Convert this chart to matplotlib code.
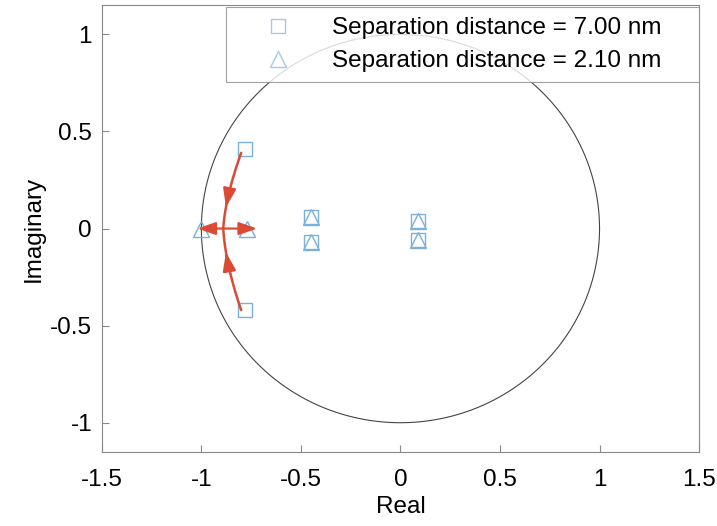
import numpy as np
import matplotlib.pyplot as plt

plt.rcParams['font.family'] = ['Liberation Sans', 'DejaVu Sans']

# pole locations for the two separation distances
poles_7nm_re = [-0.78, -0.78, -0.45, -0.45, 0.09, 0.09]
poles_7nm_im = [0.41, -0.42, 0.06, -0.07, 0.04, -0.06]
poles_21nm_re = [-1.00, -0.77, -0.45, -0.45, 0.09, 0.09]
poles_21nm_im = [0.0, 0.0, 0.06, -0.07, 0.04, -0.06]

labels = ['Separation distance = 7.00 nm', 'Separation distance = 2.10 nm']

# red arrows showing the pole movement
curve_start = [(-0.80, 0.39), (-0.80, -0.42)]
curve_ctrl = [(-0.88, 0.16), (-0.88, -0.18)]
curve_end = (-0.89, 0.0)
split_left, split_right = -1.02, -0.72

blue = '#7ab0dc'
red = '#db4a35'
FS = 17.5
HEAD = ',head_width=0.35,head_length=1.0'


def bezier(p0, p1, p2, n=60):
    t = np.linspace(0, 1, n)[:, None]
    p0, p1, p2 = map(np.asarray, (p0, p1, p2))
    return (1 - t) ** 2 * p0 + 2 * (1 - t) * t * p1 + t ** 2 * p2


def main():
    fig = plt.figure(figsize=(7.17, 5.26), dpi=100)
    ax = fig.add_axes([0.142, 0.141, 0.833, 0.849])

    th = np.linspace(0, 2 * np.pi, 400)
    ax.plot(np.cos(th), np.sin(th), color='#444444', lw=0.8)

    ax.plot(poles_7nm_re, poles_7nm_im, 's', ms=10, mfc='none', mec=blue,
            mew=1.0, label=labels[0])
    ax.plot(poles_21nm_re, poles_21nm_im, '^', ms=12, mfc='none', mec=blue,
            mew=1.0, label=labels[1])

    for p0, p1 in zip(curve_start, curve_ctrl):
        pts = bezier(p0, p1, curve_end)
        ax.plot(pts[:, 0], pts[:, 1], color=red, lw=1.8, solid_capstyle='round')
        i = 38
        ax.annotate('', xy=pts[i + 2], xytext=pts[i - 2],
                    arrowprops=dict(arrowstyle='-|>' + HEAD, color=red, lw=1.8,
                                    mutation_scale=11, shrinkA=0, shrinkB=0))

    ax.annotate('', xy=(split_left, 0), xytext=(split_right, 0),
                arrowprops=dict(arrowstyle='<|-|>' + HEAD, color=red, lw=1.6,
                                mutation_scale=11, shrinkA=0, shrinkB=0))

    ax.set_xlim(-1.5, 1.5)
    ax.set_ylim(-1.15, 1.15)
    ax.set_xticks([-1.5, -1, -0.5, 0, 0.5, 1, 1.5])
    ax.set_xticklabels(['-1.5', '-1', '-0.5', '0', '0.5', '1', '1.5'])
    ax.set_yticks([-1, -0.5, 0, 0.5, 1])
    ax.set_yticklabels(['-1', '-0.5', '0', '0.5', '1'])
    ax.tick_params(direction='in', labelsize=FS, color='#888888', length=5)
    ax.tick_params(axis='x', pad=12)
    ax.tick_params(axis='y', pad=7)
    for s in ax.spines.values():
        s.set_color('#888888')
        s.set_linewidth(0.8)
    ax.set_xlabel('Real', fontsize=FS, labelpad=4)
    ax.set_ylabel('Imaginary', fontsize=FS, labelpad=4)

    leg = ax.legend(loc='upper right', bbox_to_anchor=(0.208, 0.0, 0.792, 0.995),
                    mode='expand', fontsize=FS, frameon=True, fancybox=False,
                    borderaxespad=0, handlelength=3.5, handletextpad=0.45,
                    borderpad=0.4, labelspacing=0.45)
    leg.get_frame().set_edgecolor('#888888')
    leg.get_frame().set_linewidth(0.8)
    for h in leg.legend_handles:
        h.set_markeredgecolor('#a8c8e4')

    fig.savefig('out.png', dpi=100)


if __name__ == '__main__':
    main()
